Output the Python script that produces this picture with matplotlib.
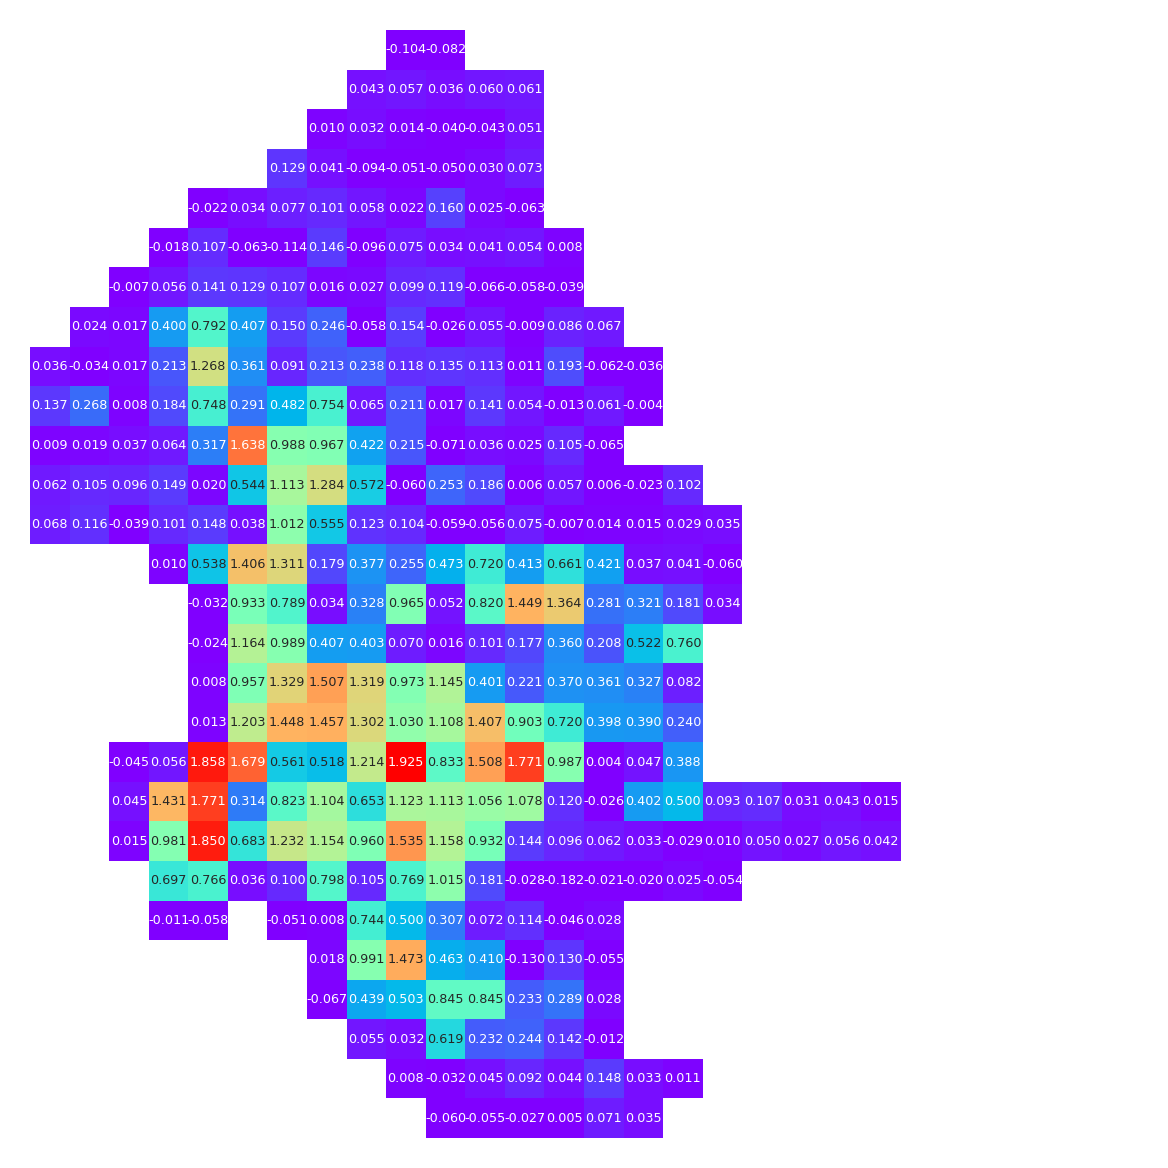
import numpy as np
import matplotlib
matplotlib.use("Agg")
from matplotlib import pyplot as plt
import seaborn as sns

N = None
# 28 x 28 grid, None = empty cell
rows = [
    [N, N, N, N, N, N, N, N, N, -0.104, -0.082],
    [N, N, N, N, N, N, N, N, 0.043, 0.057, 0.036, 0.060, 0.061],
    [N, N, N, N, N, N, N, 0.010, 0.032, 0.014, -0.040, -0.043, 0.051],
    [N, N, N, N, N, N, 0.129, 0.041, -0.094, -0.051, -0.050, 0.030, 0.073],
    [N, N, N, N, -0.022, 0.034, 0.077, 0.101, 0.058, 0.022, 0.160, 0.025, -0.063],
    [N, N, N, -0.018, 0.107, -0.063, -0.114, 0.146, -0.096, 0.075, 0.034, 0.041, 0.054, 0.008],
    [N, N, -0.007, 0.056, 0.141, 0.129, 0.107, 0.016, 0.027, 0.099, 0.119, -0.066, -0.058, -0.039],
    [N, 0.024, 0.017, 0.400, 0.792, 0.407, 0.150, 0.246, -0.058, 0.154, -0.026, 0.055, -0.009, 0.086, 0.067],
    [0.036, -0.034, 0.017, 0.213, 1.268, 0.361, 0.091, 0.213, 0.238, 0.118, 0.135, 0.113, 0.011, 0.193, -0.062, -0.036],
    [0.137, 0.268, 0.008, 0.184, 0.748, 0.291, 0.482, 0.754, 0.065, 0.211, 0.017, 0.141, 0.054, -0.013, 0.061, -0.004],
    [0.009, 0.019, 0.037, 0.064, 0.317, 1.638, 0.988, 0.967, 0.422, 0.215, -0.071, 0.036, 0.025, 0.105, -0.065],
    [0.062, 0.105, 0.096, 0.149, 0.020, 0.544, 1.113, 1.284, 0.572, -0.060, 0.253, 0.186, 0.006, 0.057, 0.006, -0.023, 0.102],
    [0.068, 0.116, -0.039, 0.101, 0.148, 0.038, 1.012, 0.555, 0.123, 0.104, -0.059, -0.056, 0.075, -0.007, 0.014, 0.015, 0.029, 0.035],
    [N, N, N, 0.010, 0.538, 1.406, 1.311, 0.179, 0.377, 0.255, 0.473, 0.720, 0.413, 0.661, 0.421, 0.037, 0.041, -0.060],
    [N, N, N, N, -0.032, 0.933, 0.789, 0.034, 0.328, 0.965, 0.052, 0.820, 1.449, 1.364, 0.281, 0.321, 0.181, 0.034],
    [N, N, N, N, -0.024, 1.164, 0.989, 0.407, 0.403, 0.070, 0.016, 0.101, 0.177, 0.360, 0.208, 0.522, 0.760],
    [N, N, N, N, 0.008, 0.957, 1.329, 1.507, 1.319, 0.973, 1.145, 0.401, 0.221, 0.370, 0.361, 0.327, 0.082],
    [N, N, N, N, 0.013, 1.203, 1.448, 1.457, 1.302, 1.030, 1.108, 1.407, 0.903, 0.720, 0.398, 0.390, 0.240],
    [N, N, -0.045, 0.056, 1.858, 1.679, 0.561, 0.518, 1.214, 1.925, 0.833, 1.508, 1.771, 0.987, 0.004, 0.047, 0.388],
    [N, N, 0.045, 1.431, 1.771, 0.314, 0.823, 1.104, 0.653, 1.123, 1.113, 1.056, 1.078, 0.120, -0.026, 0.402, 0.500, 0.093, 0.107, 0.031, 0.043, 0.015],
    [N, N, 0.015, 0.981, 1.850, 0.683, 1.232, 1.154, 0.960, 1.535, 1.158, 0.932, 0.144, 0.096, 0.062, 0.033, -0.029, 0.010, 0.050, 0.027, 0.056, 0.042],
    [N, N, N, 0.697, 0.766, 0.036, 0.100, 0.798, 0.105, 0.769, 1.015, 0.181, -0.028, -0.182, -0.021, -0.020, 0.025, -0.054],
    [N, N, N, -0.011, -0.058, N, -0.051, 0.008, 0.744, 0.500, 0.307, 0.072, 0.114, -0.046, 0.028],
    [N, N, N, N, N, N, N, 0.018, 0.991, 1.473, 0.463, 0.410, -0.130, 0.130, -0.055],
    [N, N, N, N, N, N, N, -0.067, 0.439, 0.503, 0.845, 0.845, 0.233, 0.289, 0.028],
    [N, N, N, N, N, N, N, N, 0.055, 0.032, 0.619, 0.232, 0.244, 0.142, -0.012],
    [N, N, N, N, N, N, N, N, N, 0.008, -0.032, 0.045, 0.092, 0.044, 0.148, 0.033, 0.011],
    [N, N, N, N, N, N, N, N, N, N, -0.060, -0.055, -0.027, 0.005, 0.071, 0.035],
]

size = 28
data = np.full((size, size), np.nan)
for i, r in enumerate(rows):
    for j, v in enumerate(r):
        if v is not None:
            data[i, j] = v
mask = np.isnan(data)

fig = plt.figure(figsize=(11.68, 11.68), dpi=100)
ax = fig.add_axes([0.0257, 0.0257, 0.9486, 0.9486])
# negatives clip to the bottom colour
sns.heatmap(data, mask=mask, cmap='rainbow', vmin=0, vmax=np.nanmax(data),
            annot=True, fmt='.3f', annot_kws={'fontsize': 9.2},
            cbar=False, square=True,
            xticklabels=False, yticklabels=False, ax=ax)
ax.axis('off')

plt.savefig('out.png', dpi=100)
